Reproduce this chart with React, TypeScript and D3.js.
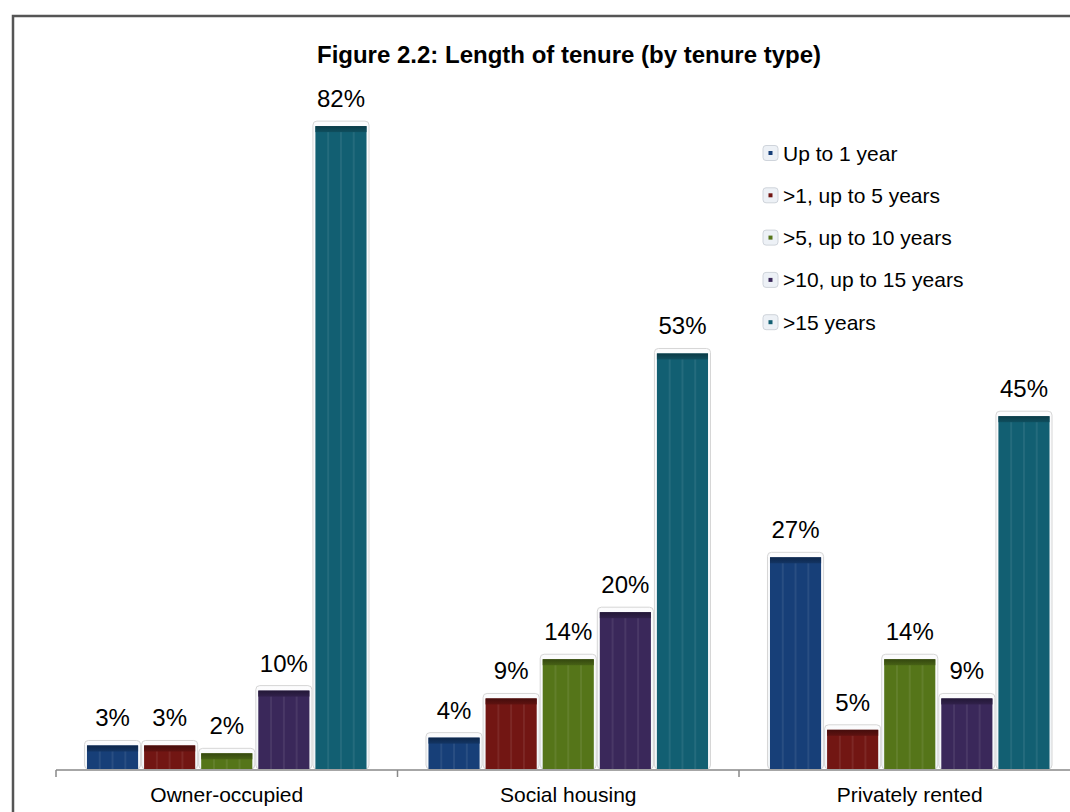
import React from "react";
import * as d3 from "d3";

const categories = ["Owner-occupied", "Social housing", "Privately rented"];
const seriesNames = [
  "Up to 1 year",
  ">1, up to 5 years",
  ">5, up to 10 years",
  ">10, up to 15 years",
  ">15 years",
];
const seriesColors = ["#173f78", "#721613", "#557519", "#3a285a", "#125f72"];
// values[series][category]
const upTo1 = [3, 4, 27];
const upTo5 = [3, 9, 5];
const upTo10 = [2, 14, 14];
const upTo15 = [10, 20, 9];
const over15 = [82, 53, 45];
const seriesValues = [upTo1, upTo5, upTo10, upTo15, over15];
const title = "Figure 2.2: Length of tenure (by tenure type)";

const W = 1070;
const H = 812;

export default function App() {
  const x0 = d3
    .scaleBand<string>()
    .domain(categories)
    .range([56, 56 + 3 * 341.5])
    .paddingInner(0)
    .paddingOuter(0);
  const x1 = d3
    .scaleBand<string>()
    .domain(seriesNames)
    .range([0, x0.bandwidth()])
    .paddingInner(0)
    .paddingOuter(0.49);
  const y = d3.scaleLinear().domain([0, 100]).range([769, 769 - 784]);
  const base = y(0);
  const inset = 3;

  const font = "Liberation Sans, Arial, sans-serif";

  return (
    <svg
      width={W}
      height={H}
      style={{ position: "absolute", left: 0, top: 0, background: "#fff" }}
      fontFamily={font}
    >
      <defs>
        <linearGradient id="frameGrad" x1="0" y1="0" x2="0" y2="1">
          <stop offset="0" stopColor="#fcfcfd" />
          <stop offset="1" stopColor="#f1f5f8" />
        </linearGradient>
        {seriesColors.map((c, i) => (
          <linearGradient key={i} id={`cap${i}`} x1="0" y1="0" x2="0" y2="1">
            <stop offset="0" stopColor={d3.color(c)!.darker(1.4).formatHex()} />
            <stop offset="1" stopColor={d3.color(c)!.darker(0.5).formatHex()} />
          </linearGradient>
        ))}
      </defs>
      <rect x={0} y={0} width={W} height={H} fill="#fff" />
      {/* outer border */}
      <rect
        x={13}
        y={16}
        width={W + 20}
        height={H + 20}
        fill="none"
        stroke="#555"
        strokeWidth={2.5}
      />
      <text
        x={569}
        y={63}
        textAnchor="middle"
        fontSize={24}
        fontWeight="bold"
        fill="#000"
      >
        {title}
      </text>

      {categories.map((cat, ci) => (
        <g key={cat} transform={`translate(${x0(cat)},0)`}>
          {seriesNames.map((s, si) => {
            const v = seriesValues[si][ci];
            const sx = x1(s)!;
            const bw = x1.bandwidth();
            const top = y(v);
            const color = seriesColors[si];
            const innerW = bw - 2 * inset;
            return (
              <g key={s}>
                <rect
                  x={sx + 0.5}
                  y={top - 5}
                  width={bw - 1}
                  height={base - top + 5}
                  rx={4}
                  fill="url(#frameGrad)"
                  stroke="#d6d6d6"
                  strokeWidth={1}
                />
                <rect
                  x={sx + inset}
                  y={top}
                  width={innerW}
                  height={base - top}
                  fill={color}
                />
                {[0.25, 0.5, 0.75].map((f) => (
                  <rect
                    key={f}
                    x={sx + inset + innerW * f - 1}
                    y={top}
                    width={2}
                    height={base - top}
                    fill="#ffffff"
                    opacity={0.08}
                  />
                ))}
                <rect
                  x={sx + inset}
                  y={top}
                  width={innerW}
                  height={Math.min(6, base - top)}
                  fill={`url(#cap${si})`}
                />
                <text
                  x={sx + bw / 2}
                  y={top - 19}
                  textAnchor="middle"
                  fontSize={24}
                  fill="#000"
                >
                  {v}%
                </text>
              </g>
            );
          })}
          <text
            x={x0.bandwidth() / 2}
            y={802}
            textAnchor="middle"
            fontSize={21}
            fill="#000"
          >
            {cat}
          </text>
        </g>
      ))}

      {/* axis */}
      <line x1={56} x2={W} y1={770} y2={770} stroke="#888" strokeWidth={1.5} />
      {categories.map((cat) => (
        <line
          key={cat}
          x1={x0(cat)!}
          x2={x0(cat)!}
          y1={770}
          y2={777}
          stroke="#888"
          strokeWidth={1.5}
        />
      ))}

      {/* legend */}
      {seriesNames.map((s, i) => {
        const cy = 153 + i * 42.3;
        return (
          <g key={s}>
            <rect
              x={763}
              y={cy - 7.5}
              width={15}
              height={15}
              rx={3}
              fill="#edf1f6"
              stroke="#cfd4db"
              strokeWidth={1}
            />
            <rect x={768.5} y={cy - 2} width={4} height={4} fill={seriesColors[i]} />
            <text x={783} y={cy + 7.5} fontSize={21} fill="#000">
              {s}
            </text>
          </g>
        );
      })}
    </svg>
  );
}
